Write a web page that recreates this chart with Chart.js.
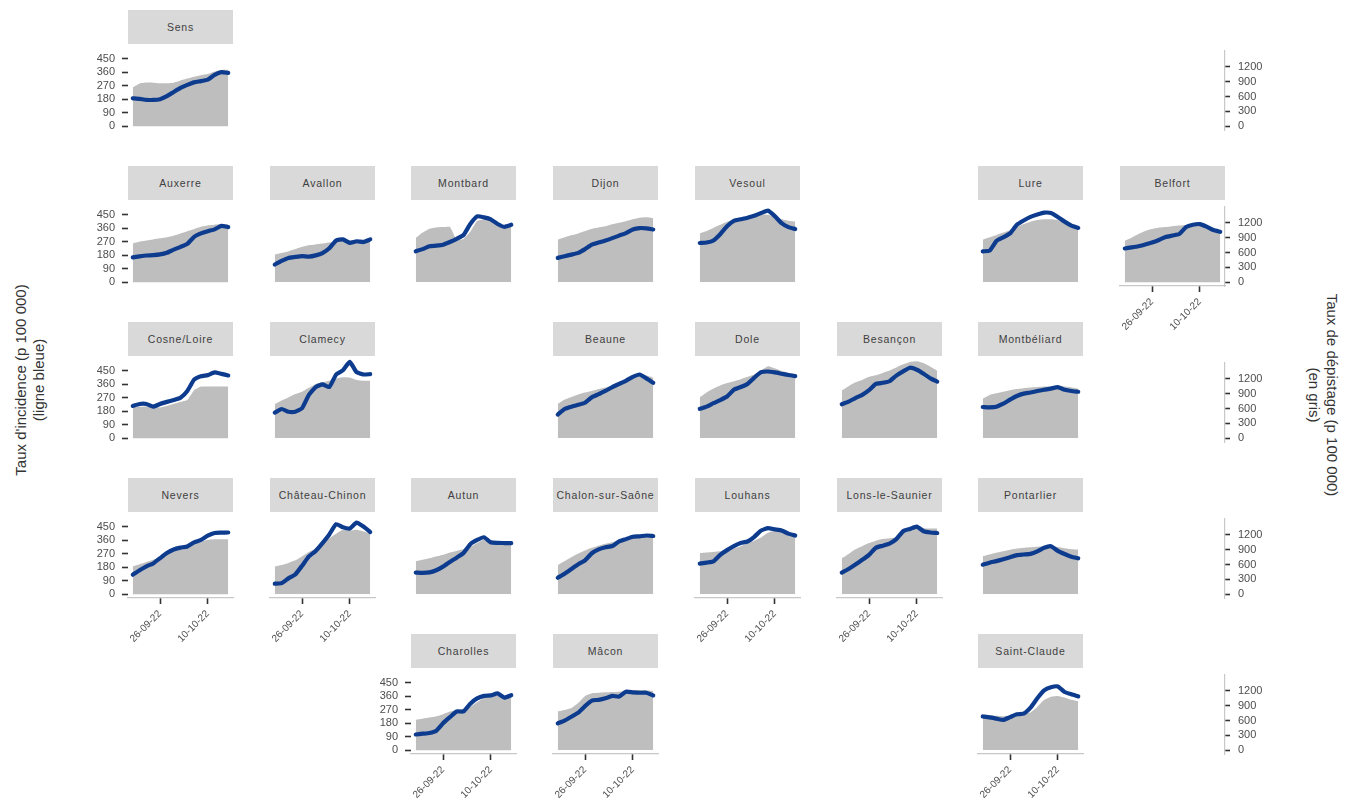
<!DOCTYPE html>
<html lang="fr">
<head>
<meta charset="utf-8">
<title>Taux d'incidence et taux de dépistage</title>
<script src="https://cdn.jsdelivr.net/npm/chart.js@4.4.1/dist/chart.umd.min.js"></script>
<style>
  body { margin: 0; background: #fff; font-family: 'Liberation Sans', Arial, sans-serif; }
  #page { position: relative; width: 1359px; height: 811px; overflow: hidden; }
  .strip { position: absolute; width: 105px; height: 34px; background: #d9d9d9; color: #404040;
           font-size: 10.5px; font-weight: normal; letter-spacing: 0.8px; display: flex; align-items: center;
           justify-content: center; white-space: nowrap; }
  .panel { position: absolute; }
  .axis-title { position: absolute; width: 300px; height: 36px; margin-left: -150px; margin-top: -18px;
                color: #333; font-size: 15px; line-height: 18px; text-align: center; white-space: nowrap; }
</style>
</head>
<body>
<div id="page">
  <div class="axis-title" style="left:30px; top:380px; transform: rotate(-90deg);">Taux d'incidence (p 100 000)<br>(ligne bleue)</div>
  <div class="axis-title" style="left:1323px; top:395px; transform: rotate(90deg);">Taux de dépistage (p 100 000)<br>(en gris)</div>
</div>
<script>
// Dates (one value every two days)
const dates = ['18-09-22', '20-09-22', '22-09-22', '24-09-22', '26-09-22', '28-09-22', '30-09-22',
  '02-10-22', '04-10-22', '06-10-22', '08-10-22', '10-10-22', '12-10-22', '14-10-22', '16-10-22'];
const xTickLabels = ['26-09-22', '10-10-22'];
const incidenceTicks = [0, 90, 180, 270, 360, 450];
const depistageTicks = [0, 300, 600, 900, 1200];

// Taux d'incidence (ligne bleue) / taux de dépistage (aire grise)
const sensIncidence = [186, 182, 176, 175, 180, 200, 228, 255, 275, 292, 300, 310, 342, 360, 355];
const sensDepistage = [777, 855, 873, 870, 858, 858, 870, 915, 954, 990, 1020, 1044, 1095, 1125, 1125];

const auxerreIncidence = [165, 172, 178, 180, 185, 196, 217, 235, 255, 302, 325, 340, 352, 375, 367];
const auxerreDepistage = [780, 810, 834, 855, 876, 900, 930, 975, 1020, 1065, 1110, 1134, 1149, 1161, 1155];

const avallonIncidence = [112, 135, 154, 160, 165, 162, 170, 185, 215, 265, 272, 250, 260, 255, 272];
const avallonDepistage = [525, 555, 585, 630, 675, 705, 720, 735, 756, 774, 786, 795, 804, 810, 816];

const montbardIncidence = [196, 210, 228, 232, 238, 255, 275, 300, 370, 418, 412, 400, 370, 352, 365];
const montbardDepistage = [840, 945, 1020, 1044, 1050, 1056, 804, 825, 960, 1170, 1200, 1185, 1095, 1045, 1080];

const dijonIncidence = [154, 165, 175, 186, 210, 238, 252, 265, 280, 296, 312, 335, 344, 342, 335];
const dijonDepistage = [810, 855, 894, 930, 975, 1020, 1044, 1065, 1104, 1134, 1164, 1200, 1230, 1239, 1224];

const vesoulIncidence = [249, 252, 265, 305, 355, 390, 400, 410, 422, 440, 455, 420, 375, 350, 338];
const vesoulDepistage = [930, 975, 1035, 1095, 1155, 1185, 1215, 1245, 1275, 1290, 1284, 1245, 1200, 1170, 1155];

const lureIncidence = [196, 200, 262, 285, 310, 365, 392, 415, 430, 442, 440, 415, 385, 360, 345];
const lureDepistage = [810, 855, 900, 945, 990, 1050, 1110, 1155, 1185, 1200, 1200, 1185, 1140, 1080, 1035];

const belfortIncidence = [228, 235, 243, 255, 268, 285, 305, 315, 325, 372, 388, 392, 375, 352, 340];
const belfortDepistage = [840, 900, 975, 1035, 1080, 1104, 1116, 1134, 1146, 1158, 1164, 1155, 1125, 1074, 1035];

const cosneIncidence = [215, 228, 228, 210, 228, 242, 255, 270, 315, 390, 412, 420, 438, 428, 418];
const cosneDepistage = [621, 630, 636, 624, 615, 645, 690, 726, 765, 960, 1032, 1032, 1032, 1032, 1032];

const clamecyIncidence = [162, 185, 168, 168, 190, 275, 325, 342, 325, 405, 432, 485, 420, 405, 407];
const clamecyDepistage = [651, 720, 774, 840, 885, 960, 1035, 1065, 1095, 1140, 1164, 1158, 1110, 1095, 1095];

const beauneIncidence = [150, 185, 200, 212, 225, 260, 280, 300, 325, 345, 365, 390, 405, 380, 352];
const beauneDepistage = [651, 735, 786, 834, 870, 900, 936, 966, 1005, 1050, 1095, 1155, 1215, 1194, 1155];

const doleIncidence = [186, 200, 222, 242, 265, 308, 325, 345, 385, 420, 424, 418, 410, 402, 395];
const doleDepistage = [777, 870, 945, 1005, 1050, 1086, 1125, 1170, 1215, 1290, 1374, 1335, 1284, 1245, 1221];

const besanconIncidence = [215, 232, 255, 275, 305, 345, 352, 362, 398, 425, 448, 435, 410, 380, 360];
const besanconDepistage = [906, 990, 1065, 1110, 1170, 1200, 1245, 1290, 1350, 1410, 1455, 1470, 1434, 1365, 1290];

const montbeliardIncidence = [198, 196, 200, 219, 245, 268, 283, 290, 300, 308, 315, 325, 308, 300, 295];
const montbeliardDepistage = [753, 825, 855, 885, 915, 936, 954, 966, 975, 984, 984, 984, 984, 966, 945];

const neversIncidence = [130, 160, 186, 205, 240, 274, 298, 310, 318, 345, 362, 390, 408, 410, 411];
const neversDepistage = [558, 600, 645, 690, 735, 795, 870, 915, 954, 990, 1044, 1086, 1098, 1098, 1098];

const chateauChinonIncidence = [66, 70, 100, 125, 180, 240, 275, 325, 380, 445, 425, 418, 455, 430, 395];
const chateauChinonDepistage = [525, 555, 594, 645, 720, 804, 870, 960, 1065, 1155, 1230, 1215, 1230, 1200, 1155];

const autunIncidence = [137, 135, 138, 152, 175, 205, 232, 262, 318, 345, 362, 330, 326, 325, 324];
const autunDepistage = [627, 654, 684, 717, 750, 795, 825, 855, 900, 975, 1044, 1014, 990, 984, 984];

const chalonIncidence = [104, 130, 160, 190, 215, 260, 285, 298, 306, 335, 350, 365, 368, 373, 370];
const chalonDepistage = [549, 630, 705, 774, 834, 885, 924, 960, 990, 1035, 1074, 1098, 1116, 1128, 1125];

const louhansIncidence = [194, 200, 208, 250, 280, 305, 325, 335, 365, 405, 420, 412, 405, 385, 373];
const louhansDepistage = [783, 795, 804, 816, 834, 870, 915, 966, 1020, 1080, 1170, 1215, 1200, 1170, 1119];

const lonsIncidence = [137, 160, 188, 218, 250, 295, 308, 322, 350, 400, 415, 430, 400, 392, 389];
const lonsDepistage = [681, 765, 855, 915, 975, 1020, 1050, 1065, 1080, 1185, 1245, 1290, 1260, 1254, 1254];

const pontarlierIncidence = [187, 200, 210, 222, 235, 248, 252, 256, 272, 295, 305, 275, 255, 238, 228];
const pontarlierDepistage = [723, 756, 789, 816, 846, 870, 885, 894, 906, 915, 915, 900, 876, 858, 852];

const charollesIncidence = [105, 110, 115, 130, 180, 220, 258, 258, 310, 345, 362, 365, 378, 350, 366];
const charollesDepistage = [609, 630, 654, 675, 720, 774, 804, 830, 870, 960, 1050, 1080, 1095, 1060, 1050];

const maconIncidence = [170, 188, 212, 238, 280, 315, 320, 330, 345, 341, 372, 368, 365, 365, 348];
const maconDepistage = [738, 765, 804, 900, 1035, 1086, 1095, 1104, 1110, 1116, 1134, 1140, 1146, 1140, 1134];

const saintClaudeIncidence = [214, 208, 200, 192, 210, 228, 232, 270, 330, 380, 400, 405, 370, 355, 342];
const saintClaudeDepistage = [675, 666, 654, 645, 654, 675, 696, 720, 825, 960, 1020, 1035, 1005, 960, 930];

// [nom, ligne, colonne, incidence, dépistage]
const panels = [
  ['Sens', 0, 0, sensIncidence, sensDepistage],
  ['Auxerre', 1, 0, auxerreIncidence, auxerreDepistage],
  ['Avallon', 1, 1, avallonIncidence, avallonDepistage],
  ['Montbard', 1, 2, montbardIncidence, montbardDepistage],
  ['Dijon', 1, 3, dijonIncidence, dijonDepistage],
  ['Vesoul', 1, 4, vesoulIncidence, vesoulDepistage],
  ['Lure', 1, 6, lureIncidence, lureDepistage],
  ['Belfort', 1, 7, belfortIncidence, belfortDepistage],
  ['Cosne/Loire', 2, 0, cosneIncidence, cosneDepistage],
  ['Clamecy', 2, 1, clamecyIncidence, clamecyDepistage],
  ['Beaune', 2, 3, beauneIncidence, beauneDepistage],
  ['Dole', 2, 4, doleIncidence, doleDepistage],
  ['Besançon', 2, 5, besanconIncidence, besanconDepistage],
  ['Montbéliard', 2, 6, montbeliardIncidence, montbeliardDepistage],
  ['Nevers', 3, 0, neversIncidence, neversDepistage],
  ['Château-Chinon', 3, 1, chateauChinonIncidence, chateauChinonDepistage],
  ['Autun', 3, 2, autunIncidence, autunDepistage],
  ['Chalon-sur-Saône', 3, 3, chalonIncidence, chalonDepistage],
  ['Louhans', 3, 4, louhansIncidence, louhansDepistage],
  ['Lons-le-Saunier', 3, 5, lonsIncidence, lonsDepistage],
  ['Pontarlier', 3, 6, pontarlierIncidence, pontarlierDepistage],
  ['Charolles', 4, 2, charollesIncidence, charollesDepistage],
  ['Mâcon', 4, 3, maconIncidence, maconDepistage],
  ['Saint-Claude', 4, 6, saintClaudeIncidence, saintClaudeDepistage]
];

// Layout
const page = document.getElementById('page');
const colX = [128, 270, 411, 553, 695, 837, 978, 1120];
const rowY = [10, 166, 322, 478, 634];
const PW = 105, PH = 84, STRIP = 34, GAP = 2;
const LEFT_W = 40, RIGHT_W = 50, BOTTOM_H = 52, TOP_PAD = 10;
const tickFont = { family: "'Liberation Sans', Arial, sans-serif", size: 11 };
const tickColor = '#4d4d4d';

Chart.defaults.font.family = "'Liberation Sans', Arial, sans-serif";
Chart.defaults.animation = false;

function parseDay(s) {
  const [d, m, y] = s.split('-').map(Number);
  return Date.UTC(2000 + y, m - 1, d) / 86400000;
}
const day0 = parseDay(dates[0]);
const xValues = dates.map(d => parseDay(d) - day0);
const xTicks = xTickLabels.map(d => parseDay(d) - day0);
const xSpan = xValues[xValues.length - 1];

function makePanel(name, row, col, inc, dep, opts) {
  const x0 = colX[col];
  const plotTop = rowY[row] + STRIP + GAP;

  if (name) {
    const strip = document.createElement('div');
    strip.className = 'strip';
    strip.style.left = x0 + 'px';
    strip.style.top = rowY[row] + 'px';
    strip.textContent = name;
    page.appendChild(strip);
  }

  const canvas = document.createElement('canvas');
  canvas.className = 'panel';
  canvas.width = LEFT_W + PW + RIGHT_W;
  canvas.height = TOP_PAD + PH + BOTTOM_H;
  canvas.style.left = (x0 - LEFT_W) + 'px';
  canvas.style.top = (plotTop - TOP_PAD) + 'px';
  page.appendChild(canvas);

  const datasets = [
    {
      label: 'Incidence',
      data: inc.map((v, i) => ({ x: xValues[i], y: v })),
      yAxisID: 'y',
      borderColor: '#0d3b8e',
      borderWidth: 4.2,
      borderCapStyle: 'round',
      borderJoinStyle: 'round',
      pointRadius: 0,
      tension: 0.15,
      fill: false,
      order: 0
    },
    {
      label: 'Dépistage',
      data: dep.map((v, i) => ({ x: xValues[i], y: v })),
      yAxisID: 'y2',
      backgroundColor: '#bebebe',
      borderWidth: 0,
      pointRadius: 0,
      tension: 0.1,
      fill: 'origin',
      order: 1
    }
  ];

  new Chart(canvas, {
    type: 'line',
    data: { datasets },
    options: {
      responsive: false,
      devicePixelRatio: 1,
      layout: { padding: { top: TOP_PAD, left: 0, right: 0, bottom: 0 } },
      plugins: { legend: { display: false }, tooltip: { enabled: false } },
      scales: {
        x: {
          type: 'linear',
          min: -0.05 * xSpan,
          max: xSpan * 1.05,
          afterFit: s => { s.height = BOTTOM_H; },
          afterBuildTicks: s => { s.ticks = xTicks.map(v => ({ value: v })); },
          ticks: {
            display: opts.bottom,
            autoSkip: false,
            minRotation: 45,
            maxRotation: 45,
            padding: 4,
            font: { ...tickFont, size: 10 },
            color: tickColor,
            callback: v => xTickLabels[xTicks.indexOf(v)]
          },
          grid: { drawOnChartArea: false, drawTicks: opts.bottom, tickLength: 6, tickColor: '#333', tickWidth: 1.6 },
          border: { display: opts.bottom, color: '#c8c8c8', width: 1.2 }
        },
        y: {
          position: 'left',
          min: -25,
          max: 510,
          afterFit: s => { s.width = LEFT_W; },
          afterBuildTicks: s => { s.ticks = incidenceTicks.map(v => ({ value: v })); },
          ticks: { display: opts.left, autoSkip: false, padding: 7, font: tickFont, color: tickColor, callback: v => String(v) },
          grid: { drawOnChartArea: false, drawTicks: opts.left, tickLength: 6, tickColor: '#333', tickWidth: 1.6 },
          border: { display: false }
        },
        y2: {
          position: 'right',
          min: -75,
          max: 1530,
          afterFit: s => { s.width = RIGHT_W; },
          afterBuildTicks: s => { s.ticks = depistageTicks.map(v => ({ value: v })); },
          ticks: { display: opts.right, autoSkip: false, padding: 8, font: tickFont, color: tickColor, callback: v => String(v) },
          grid: { drawOnChartArea: false, drawTicks: opts.right, tickLength: 5, tickColor: '#333', tickWidth: 1.6 },
          border: { display: opts.right, color: '#c8c8c8', width: 1.2 }
        }
      }
    }
  });
}

// Which panel is lowest in each column, and first in each row
const bottomRow = {};
const firstCol = {};
panels.forEach(([, r, c]) => {
  bottomRow[c] = Math.max(bottomRow[c] ?? -1, r);
  firstCol[r] = Math.min(firstCol[r] ?? 99, c);
});

panels.forEach(([name, r, c, inc, dep]) => {
  makePanel(name, r, c, inc, dep, {
    bottom: bottomRow[c] === r,
    left: firstCol[r] === c,
    right: c === 7
  });
});

// Secondary axis at the end of rows without a panel in the last column
rowY.forEach((_, r) => {
  if (!panels.some(p => p[1] === r && p[2] === 7)) {
    makePanel(null, r, 7, [], [], { bottom: false, left: false, right: true });
  }
});
</script>
</body>
</html>
